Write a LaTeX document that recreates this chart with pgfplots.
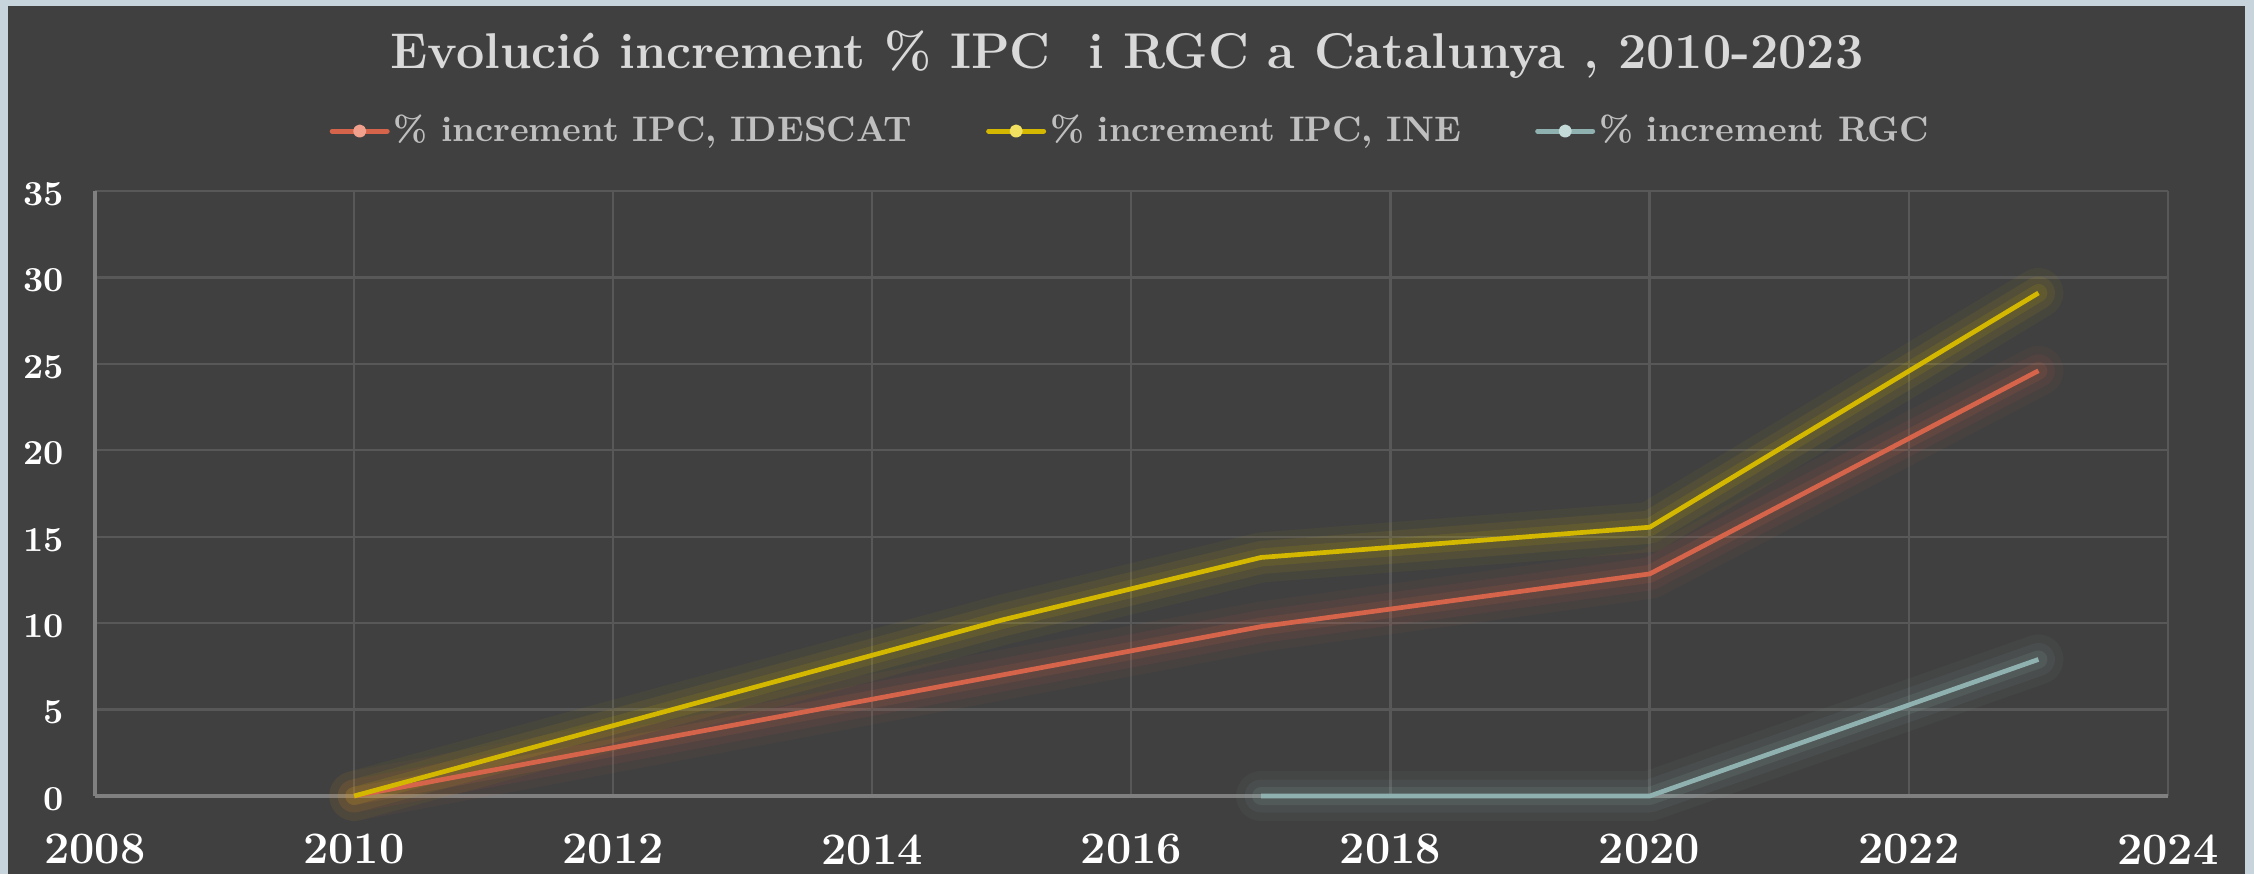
\documentclass[border=0pt]{standalone}
\usepackage{pgfplots}
\pgfplotsset{compat=1.18}
\usepackage{pgfplotstable}
\definecolor{bgc}{HTML}{404040}
\definecolor{framec}{HTML}{C8D4DC}
\definecolor{gridc}{HTML}{585858}
\definecolor{axisc}{HTML}{808080}
\definecolor{redc}{HTML}{D6644A}
\definecolor{redl}{HTML}{F0A08C}
\definecolor{yelc}{HTML}{D4B800}
\definecolor{yell}{HTML}{F2E060}
\definecolor{tealc}{HTML}{8FB2B0}
\definecolor{teall}{HTML}{C4DAD8}
\definecolor{titlec}{HTML}{D9D9D9}
\definecolor{legc}{HTML}{BFBFBF}

\pgfplotstableread{
year val
2010 0
2015 7.0
2017 9.8
2020 12.85
2023 24.6
}\idescat
\pgfplotstableread{
year val
2010 0
2015 10.18
2017 13.8
2020 15.55
2023 29.1
}\ine
\pgfplotstableread{
year val
2017 0
2020 0
2023 7.9
}\rgc

\begin{document}
\begin{tikzpicture}[x=1mm,y=1mm]
\fill[framec] (0,0) rectangle (225.4,87.4);
\fill[bgc] (0.8,0) rectangle (224.5,86.8);
\node[text=titlec,font=\fontsize{14.3}{18}\selectfont\bfseries] at (112.7,81.9) {Evolució increment \% IPC\ \ i RGC a Catalunya , 2010-2023};
\begin{axis}[
  at={(9.5mm,7.8mm)}, anchor=south west,
  scale only axis, width=207.3mm, height=60.5mm,
  xmin=2008, xmax=2024, ymin=0, ymax=35,
  xtick distance=2, ytick distance=5,
  major tick length=0pt,
  axis x line*=bottom, axis y line*=left,
  axis line style={axisc, line width=0.35mm},
  grid=major,
  major grid style={gridc, line width=0.22mm},
  /pgf/number format/assume math mode=true,
  /pgf/number format/1000 sep={},
  xticklabel style={text=white, font=\fontsize{12.8}{14}\selectfont\bfseries, yshift=-2.6mm},
  yticklabel style={text=white, font=\fontsize{10}{12}\selectfont\bfseries, xshift=-1.9mm, yshift=-0.3mm, anchor=east},
  legend columns=3,
  legend style={at={(0.5,1.099)}, anchor=center, draw=none, fill=none,
    text=legc, font=\fontsize{10.1}{12}\selectfont\bfseries,
    /tikz/every even column/.append style={column sep=7mm},
    nodes={inner sep=0.4mm}},
  clip=false,
]
% glow
\addplot[forget plot, redc, opacity=0.05, line width=5mm, line join=round, line cap=round] table[x=year,y=val] {\idescat};
\addplot[forget plot, redc, opacity=0.08, line width=3.3mm, line join=round, line cap=round] table[x=year,y=val] {\idescat};
\addplot[forget plot, redc, opacity=0.12, line width=1.8mm, line join=round, line cap=round] table[x=year,y=val] {\idescat};
\addplot[forget plot, yelc, opacity=0.05, line width=5mm, line join=round, line cap=round] table[x=year,y=val] {\ine};
\addplot[forget plot, yelc, opacity=0.08, line width=3.3mm, line join=round, line cap=round] table[x=year,y=val] {\ine};
\addplot[forget plot, yelc, opacity=0.12, line width=1.8mm, line join=round, line cap=round] table[x=year,y=val] {\ine};
\addplot[forget plot, tealc, opacity=0.05, line width=5mm, line join=round, line cap=round] table[x=year,y=val] {\rgc};
\addplot[forget plot, tealc, opacity=0.08, line width=3.3mm, line join=round, line cap=round] table[x=year,y=val] {\rgc};
\addplot[forget plot, tealc, opacity=0.12, line width=1.8mm, line join=round, line cap=round] table[x=year,y=val] {\rgc};
% main lines
\addplot[redc, line width=0.47mm, line join=round, no marks,
  legend image code/.code={\draw[redc,line width=0.5mm,line cap=round] (0mm,0mm) -- (5.5mm,0mm); \fill[redl] (2.75mm,0mm) circle (0.42mm);}]
  table[x=year,y=val] {\idescat};
\addlegendentry{\% increment IPC, IDESCAT}
\addplot[yelc, line width=0.47mm, line join=round, no marks,
  legend image code/.code={\draw[yelc,line width=0.5mm,line cap=round] (0mm,0mm) -- (5.5mm,0mm); \fill[yell] (2.75mm,0mm) circle (0.42mm);}]
  table[x=year,y=val] {\ine};
\addlegendentry{\% increment IPC, INE}
\addplot[tealc, line width=0.47mm, line join=round, no marks,
  legend image code/.code={\draw[tealc,line width=0.5mm,line cap=round] (0mm,0mm) -- (5.5mm,0mm); \fill[teall] (2.75mm,0mm) circle (0.42mm);}]
  table[x=year,y=val] {\rgc};
\addlegendentry{\% increment RGC}
\end{axis}
\pgfresetboundingbox
\path[use as bounding box] (0,0) rectangle (225.4,87.4);
\end{tikzpicture}
\end{document}
